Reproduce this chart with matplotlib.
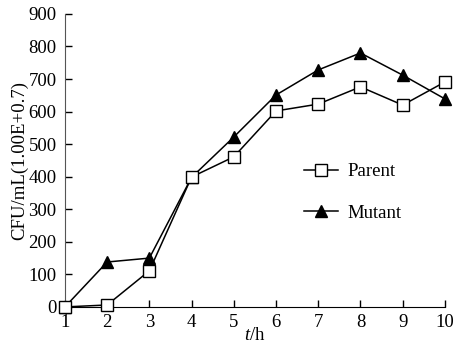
import matplotlib
matplotlib.use("Agg")
import matplotlib.pyplot as plt

hours = [1, 2, 3, 4, 5, 6, 7, 8, 9, 10]
parent = [0, 6, 111, 399, 461, 602, 623, 676, 620, 691]
mutant = [0, 138, 150, 398, 522, 651, 728, 780, 712, 639]
yticks = [0, 100, 200, 300, 400, 500, 600, 700, 800, 900]

plt.rcParams['font.family'] = ['Liberation Serif', 'DejaVu Serif']
plt.rcParams['mathtext.fontset'] = 'custom'
plt.rcParams['mathtext.it'] = 'Liberation Serif:italic'
plt.rcParams['mathtext.rm'] = 'Liberation Serif'

fs = 13.5
fig = plt.figure(figsize=(4.54, 3.48), dpi=100)
ax = fig.add_axes([0.143, 0.118, 0.837, 0.842])

ax.plot(hours, parent, color='black', lw=1.1, marker='s', ms=8.5,
        mfc='white', mec='black', mew=1, label='Parent', clip_on=False, zorder=3)
ax.plot(hours, mutant, color='black', lw=1.1, marker='^', ms=8.5,
        mfc='black', mec='black', label='Mutant', clip_on=False, zorder=2)

ax.set_xlim(1, 10)
ax.set_ylim(0, 900)
ax.set_xticks(hours)
ax.set_yticks(yticks)
ax.spines['top'].set_visible(False)
ax.spines['right'].set_visible(False)
ax.spines['left'].set_color('#555555')
ax.tick_params(direction='in', length=5, width=1, labelsize=fs)
ax.tick_params(axis='x', pad=5)
ax.tick_params(axis='y', pad=6)
ax.set_xlabel(r'$t$/h', fontsize=fs, labelpad=-3)
ax.set_ylabel('CFU/mL(1.00E+0.7)', fontsize=fs, labelpad=0)

ax.legend(frameon=False, loc='center left', bbox_to_anchor=(0.585, 0.39),
          fontsize=fs, handlelength=1.8, labelspacing=1.3, handletextpad=0.5)

fig.savefig('out.png', dpi=100)
